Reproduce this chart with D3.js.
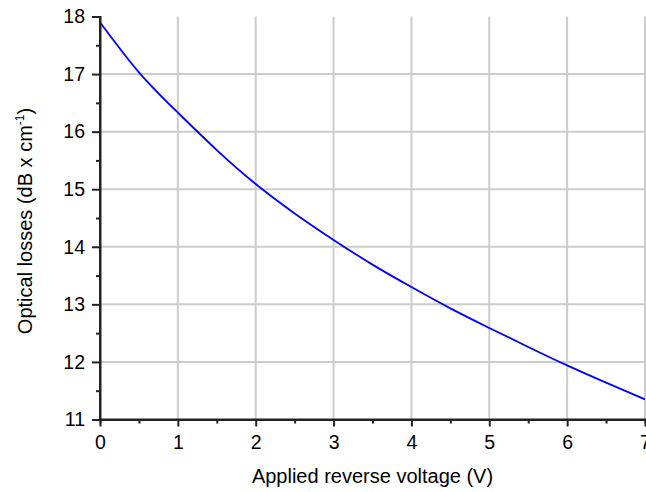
<!DOCTYPE html>
<html><head><meta charset="utf-8">
<script src="https://cdn.jsdelivr.net/npm/d3@7/dist/d3.min.js"></script>
<style>body{margin:0;background:#fff}svg{display:block}text{font-family:"Liberation Sans",Arial,sans-serif}</style>
</head><body><svg id="c" width="646" height="492"></svg>
<script>
const voltage = [0,0.5,1,1.5,2,2.5,3,3.5,4,4.5,5,5.5,6,6.5,7];
const losses = [17.9,17.03,16.33,15.68,15.09,14.58,14.12,13.69,13.30,12.93,12.59,12.26,11.94,11.64,11.35];
const xTicks = [0,1,2,3,4,5,6,7];
const yTicks = [11,12,13,14,15,16,17,18];
const xMinor = [0.5,1.5,2.5,3.5,4.5,5.5,6.5];
const yMinor = [11.5,12.5,13.5,14.5,15.5,16.5,17.5];

const svg = d3.select('#c');
const x = d3.scaleLinear().domain([0,7]).range([100,645]);
const y = d3.scaleLinear().domain([11,18]).range([419.5,16.5]);

// grid
svg.append('g').selectAll('line').data(xTicks.slice(1)).join('line')
  .attr('x1',d=>x(d)).attr('x2',d=>x(d)).attr('y1',y(11)).attr('y2',y(18))
  .attr('stroke','#cccccc').attr('stroke-width',2);
svg.append('g').selectAll('line').data(yTicks.slice(1,-1)).join('line')
  .attr('y1',d=>y(d)).attr('y2',d=>y(d)).attr('x1',x(0)).attr('x2',646)
  .attr('stroke','#cccccc').attr('stroke-width',2);

// curve
const line = d3.line().x((d,i)=>x(voltage[i])).y(d=>y(d)).curve(d3.curveNatural);
svg.append('path').datum(losses).attr('d',line).attr('fill','none')
  .attr('stroke','#0000ff').attr('stroke-width',1.8);

// axes
const ax = svg.append('g').attr('transform',`translate(0,${y(11)})`)
  .call(d3.axisBottom(x).tickValues(xTicks).tickSize(7).tickPadding(9).tickFormat(d3.format('d')));
svg.append('g').attr('transform',`translate(0,${y(11)})`)
  .call(d3.axisBottom(x).tickValues(xMinor).tickSize(4).tickFormat(''));
const ay = svg.append('g').attr('transform',`translate(${x(0)},0)`)
  .call(d3.axisLeft(y).tickValues(yTicks).tickSize(8).tickPadding(7).tickFormat(d3.format('d')));
svg.append('g').attr('transform',`translate(${x(0)},0)`)
  .call(d3.axisLeft(y).tickValues(yMinor).tickSize(4).tickFormat(''));
svg.selectAll('.domain').attr('stroke','#222').attr('stroke-width',2);
svg.selectAll('.tick line').attr('stroke','#222').attr('stroke-width',2);
svg.selectAll('.tick text').attr('font-size',19.5).attr('fill','#000')
  .attr('font-family','"Liberation Sans",Arial,sans-serif');
ax.select('.domain').attr('d',`M${x(0)},0H646`);
ay.select('.domain').attr('d',`M0,${y(11)}V${y(18)}`);

// titles
svg.append('text').attr('x',(x(0)+x(7))/2).attr('y',483).attr('text-anchor','middle')
  .attr('font-size',20).text('Applied reverse voltage (V)');
const yt = svg.append('text').attr('transform',`translate(32,${(y(11)+y(18))/2+3}) rotate(-90)`)
  .attr('text-anchor','middle').attr('font-size',20);
yt.append('tspan').text('Optical losses (dB x cm');
yt.append('tspan').attr('font-size',12).attr('dy',-8).text('-1');
yt.append('tspan').attr('dy',8).text(')');
</script></body></html>
